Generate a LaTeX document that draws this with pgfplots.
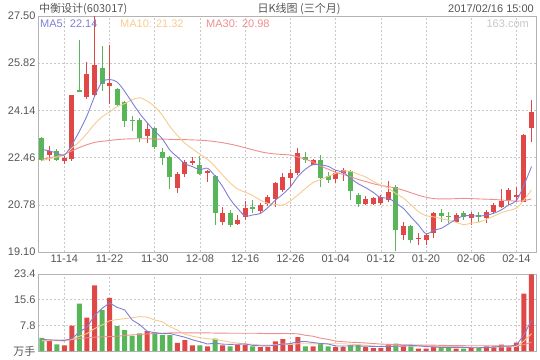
\documentclass[border=0pt]{standalone}
\usepackage{fontspec}
\setmainfont{Liberation Sans}
\newfontfamily\cjk{Noto Sans CJK SC}
\usepackage{pgfplots}
\pgfplotsset{compat=1.18}
\usepackage{pgfplotstable}

\definecolor{upred}{HTML}{E04848}
\definecolor{dngreen}{HTML}{58B558}
\definecolor{mafive}{HTML}{7F7FD5}
\definecolor{maten}{HTML}{F6CB90}
\definecolor{mathirty}{HTML}{EE8E8E}
\definecolor{txt}{HTML}{555555}
\definecolor{framec}{HTML}{B4B4B4}
\definecolor{gridc}{HTML}{C8C8C8}

% red (up) candles: index open high low close
\pgfplotstableread{
i o h l c
1 22.56 22.88 22.35 22.68
3 22.33 22.53 22.23 22.45
4 22.41 24.70 22.35 24.70
6 24.63 25.85 24.55 25.44
7 24.69 27.50 24.66 25.77
9 25.00 26.48 24.37 25.12
14 23.24 23.68 22.99 23.47
18 21.39 21.96 21.21 21.88
19 21.87 22.38 21.78 22.31
20 22.27 22.49 22.19 22.33
22 21.90 22.02 21.60 21.98
24 20.18 20.71 20.06 20.48
26 20.09 20.42 20.06 20.24
27 20.34 20.90 20.24 20.66
29 20.57 20.83 20.50 20.77
30 20.81 21.13 20.72 21.07
31 20.99 21.60 20.71 21.55
32 21.31 21.90 21.24 21.78
33 21.72 22.04 21.42 21.92
34 21.90 22.79 21.84 22.61
36 22.20 22.41 22.18 22.37
39 21.69 22.02 21.55 21.90
40 21.90 22.10 21.64 22.01
43 20.80 21.09 20.77 20.98
44 20.80 21.07 20.77 21.01
45 20.83 21.13 20.79 21.07
46 20.95 21.64 20.89 21.25
48 19.71 20.18 19.53 20.03
50 19.55 19.77 19.35 19.59
51 19.53 19.77 19.35 19.71
52 19.77 20.53 19.60 20.48
55 20.18 20.48 20.14 20.42
57 20.30 20.53 20.06 20.44
59 20.30 20.60 20.14 20.51
60 20.53 20.83 20.45 20.77
61 20.69 21.34 20.66 20.93
62 20.95 21.37 20.77 21.31
63 21.07 21.40 20.89 21.13
64 20.89 23.30 20.89 23.26
65 23.50 24.51 23.03 24.09
}\redc

% green (down) candles
\pgfplotstableread{
i o h l c
0 23.16 23.18 22.35 22.39
2 22.71 22.75 22.35 22.39
5 24.87 26.65 24.78 24.78
8 25.65 26.44 24.84 25.08
10 24.90 24.95 24.30 24.34
11 24.43 24.46 23.56 23.77
12 23.81 23.95 23.40 23.77
13 23.80 23.86 23.00 23.15
15 23.50 23.55 22.78 22.83
16 22.67 22.79 22.20 22.44
17 22.49 22.53 21.34 21.76
21 22.20 22.52 21.84 21.88
23 21.82 21.84 20.06 20.48
25 20.48 20.59 20.00 20.06
28 20.69 20.95 20.48 20.64
35 22.49 22.67 22.26 22.37
37 22.37 22.55 21.42 21.75
38 21.81 21.96 21.57 21.66
41 21.98 22.02 20.95 21.28
42 21.13 21.19 20.69 20.80
47 21.42 21.48 19.12 19.88
49 20.03 20.06 19.41 19.53
53 20.48 20.62 20.18 20.38
54 20.39 20.53 20.14 20.35
56 20.48 20.57 20.24 20.34
58 20.40 20.53 20.17 20.36
}\greenc

% moving averages of the close
\pgfplotstableread{
i m5 m10 m30
0 22.75 22.35 22.40
1 22.70 22.42 22.45
2 22.62 22.48 22.50
3 22.55 22.55 22.58
4 22.92 22.80 22.70
5 23.40 23.03 22.82
6 23.95 23.32 22.92
7 24.63 23.65 23.00
8 25.15 23.91 23.04
9 25.24 24.08 23.07
10 25.15 24.28 23.10
11 24.82 24.38 23.12
12 24.42 24.52 23.13
13 24.03 24.59 23.13
14 23.70 24.47 23.13
15 23.40 24.27 23.12
16 23.13 23.97 23.12
17 22.73 23.57 23.11
18 22.48 23.25 23.10
19 22.24 22.97 23.10
20 22.14 22.77 23.09
21 22.03 22.58 23.08
22 22.08 22.40 23.06
23 21.80 22.14 23.03
24 21.43 21.84 22.99
25 20.98 21.56 22.94
26 20.65 21.34 22.88
27 20.38 21.23 22.81
28 20.42 21.11 22.74
29 20.47 20.95 22.67
30 20.68 20.83 22.62
31 20.94 20.79 22.59
32 21.16 20.77 22.57
33 21.42 20.92 22.55
34 21.79 21.13 22.48
35 22.05 21.36 22.40
36 22.21 21.57 22.30
37 22.20 21.68 22.16
38 22.15 21.79 22.05
39 22.01 21.90 21.94
40 21.94 21.99 21.86
41 21.72 21.97 21.78
42 21.53 21.87 21.68
43 21.39 21.77 21.61
44 21.22 21.61 21.53
45 21.03 21.48 21.47
46 21.02 21.37 21.43
47 20.84 21.18 21.37
48 20.65 21.02 21.30
49 20.35 20.78 21.21
50 20.06 20.54 21.12
51 19.75 20.39 21.05
52 19.87 20.35 21.00
53 19.94 20.29 20.99
54 20.10 20.23 20.99
55 20.27 20.16 21.00
56 20.39 20.07 21.01
57 20.39 20.13 21.00
58 20.38 20.16 20.99
59 20.41 20.26 20.98
60 20.48 20.38 20.97
61 20.60 20.50 20.95
62 20.78 20.58 20.93
63 20.93 20.66 20.91
64 21.48 20.95 20.93
65 22.14 21.31 20.99
}\matab

% volumes (10k lots)
\pgfplotstableread{
i v
1 3.27
3 1.73
4 7.68
6 10.15
7 19.92
9 16.12
14 6.04
18 2.44
19 3.27
20 1.73
22 1.42
24 1.73
26 1.94
27 1.94
29 1.21
30 1.21
31 2.96
32 3.58
33 2.24
34 4.19
36 1.42
39 1.21
40 1.21
43 1.21
44 0.90
45 0.90
46 1.94
48 1.73
50 0.69
51 0.69
52 1.63
55 0.69
57 1.21
59 1.42
60 1.42
61 1.94
62 1.42
63 2.55
64 17.45
65 23.30
}\redv

\pgfplotstableread{
i v
0 3.98
2 2.03
5 14.37
8 12.52
10 7.58
11 6.35
12 4.60
13 5.33
15 5.63
16 4.81
17 4.81
21 1.73
23 3.78
25 1.42
28 1.42
35 1.42
37 2.24
38 1.42
41 1.73
42 1.94
47 2.24
49 1.42
53 1.21
54 1.21
56 0.69
58 1.21
}\greenv

\pgfplotstableread{
i a b c
0 3.50 3.20 3.00
1 3.40 3.20 3.10
2 3.30 3.10 3.20
3 3.20 3.00 3.30
4 3.74 3.50 3.50
5 5.82 4.50 3.80
6 7.19 5.30 4.00
7 10.77 6.80 4.20
8 12.93 7.90 4.30
9 14.62 9.18 4.40
10 13.26 9.54 4.50
11 12.50 9.85 4.70
12 9.43 10.10 4.90
13 8.00 10.46 5.00
14 5.98 10.30 5.20
15 5.59 9.42 5.30
16 5.28 8.89 5.40
17 5.32 7.38 5.50
18 4.75 6.37 5.50
19 4.19 5.09 5.50
20 3.41 4.50 5.50
21 2.80 4.04 5.50
22 2.12 3.72 5.50
23 2.39 3.57 5.45
24 2.08 3.14 5.45
25 2.02 2.71 5.40
26 2.06 2.43 5.40
27 2.16 2.14 5.40
28 1.69 2.04 5.40
29 1.59 1.83 5.37
30 1.54 1.78 5.27
31 1.75 1.90 5.26
32 2.08 2.12 5.31
33 2.24 1.97 5.33
34 2.84 2.21 5.21
35 2.88 2.21 4.78
36 2.57 2.16 4.49
37 2.30 2.19 3.90
38 2.14 2.19 3.53
39 1.54 2.19 3.04
40 1.50 2.19 2.82
41 1.56 2.07 2.67
42 1.50 1.90 2.58
43 1.46 1.80 2.44
44 1.40 1.47 2.27
45 1.34 1.42 2.11
46 1.38 1.47 2.02
47 1.44 1.47 1.93
48 1.54 1.50 1.91
49 1.65 1.52 1.85
50 1.60 1.47 1.81
51 1.35 1.37 1.78
52 1.23 1.34 1.79
53 1.13 1.34 1.70
54 1.09 1.37 1.68
55 1.09 1.35 1.66
56 1.09 1.22 1.62
57 1.00 1.12 1.59
58 1.00 1.07 1.59
59 1.04 1.07 1.59
60 1.19 1.14 1.60
61 1.44 1.26 1.57
62 1.48 1.24 1.49
63 1.75 1.38 1.50
64 4.95 3.00 1.95
65 9.33 5.26 2.67
}\vmatab

\begin{document}
\begin{tikzpicture}
\path[use as bounding box] (0bp,0bp) rectangle (540bp,-360bp);
\pgfplotsset{
  base/.style={
    scale only axis, width=498bp, xmin=-0.5, xmax=65.6,
    axis line style={framec, line width=0.6bp},
    major tick length=0pt,
    xtick={3,9,15,21,27,33,39,45,51,57,63},
    grid=major,
    major grid style={gridc, dash pattern=on 2bp off 2bp, line width=0.6bp},
    ticklabel style={font=\fontsize{11bp}{13bp}\selectfont, text=txt},
    clip=true,
  },
  candle/.style 2 args={draw=none, no markers, error bars/.cd, y dir=plus, y explicit,
    error mark=none, error bar style={draw=#1, line width=#2}},
}
\begin{axis}[base, at={(38bp,-252bp)}, anchor=south west, height=236bp,
  ymin=19.10, ymax=27.50,
  ytick={19.10,20.78,22.46,24.14,25.82,27.50},
  yticklabels={19.10,20.78,22.46,24.14,25.82,27.50},
  xticklabels={11-14,11-22,11-30,12-08,12-16,12-26,01-04,01-12,01-20,02-06,02-14},
  yticklabel style={xshift=1bp},
  xticklabel style={yshift=1bp},
]
% wicks
\addplot[candle={upred}{1bp}]
  table[x=i, y=l, y error plus expr=\thisrow{h}-\thisrow{l}] {\redc};
\addplot[candle={dngreen}{1bp}]
  table[x=i, y=l, y error plus expr=\thisrow{h}-\thisrow{l}] {\greenc};
% bodies
\addplot[candle={upred}{5bp}]
  table[x=i, y=o, y error plus expr={max(\thisrow{c}-\thisrow{o},0.04)}] {\redc};
\addplot[candle={dngreen}{5bp}]
  table[x=i, y=c, y error plus expr={max(\thisrow{o}-\thisrow{c},0.04)}] {\greenc};
% moving averages
\addplot[mathirty, line width=0.9bp, smooth, mark=none] table[x=i, y=m30] {\matab};
\addplot[maten, line width=0.9bp, smooth, mark=none] table[x=i, y=m10] {\matab};
\addplot[mafive, line width=0.9bp, smooth, mark=none] table[x=i, y=m5] {\matab};
\end{axis}

\begin{axis}[base, at={(38bp,-351bp)}, anchor=south west, height=77bp,
  ymin=0, ymax=23.4,
  ytick={0,7.8,15.6,23.4},
  yticklabels={{\cjk 万手},7.8,15.6,23.4},
  xticklabels={},
  yticklabel style={xshift=1bp},
]
\addplot[ybar, bar width=5bp, bar shift=0pt, fill=upred, draw=none] table[x=i, y=v] {\redv};
\addplot[ybar, bar width=5bp, bar shift=0pt, fill=dngreen, draw=none] table[x=i, y=v] {\greenv};
\addplot[mathirty, line width=0.9bp, mark=none] table[x=i, y=c] {\vmatab};
\addplot[maten, line width=0.9bp, mark=none] table[x=i, y=b] {\vmatab};
\addplot[mafive, line width=0.9bp, mark=none] table[x=i, y=a] {\vmatab};
\end{axis}

% header texts
\node[anchor=base west, text=txt, font=\fontsize{11bp}{13bp}\cjk, inner sep=0pt] at (39bp,-12bp) {中衡设计(603017)};
\node[anchor=base, text=txt, font=\fontsize{11bp}{13bp}\cjk, inner sep=0pt] at (299bp,-12bp) {日K线图 (三个月)};
\node[anchor=base east, text=txt, font=\fontsize{11bp}{13bp}\selectfont, inner sep=0pt] at (534bp,-12bp) {2017/02/16 15:00};
\node[anchor=base west, text=mafive, font=\fontsize{11bp}{13bp}\selectfont, inner sep=0pt] at (40bp,-27bp) {MA5: 22.14};
\node[anchor=base west, text=maten, font=\fontsize{11bp}{13bp}\selectfont, inner sep=0pt] at (120bp,-27bp) {MA10: 21.32};
\node[anchor=base west, text=mathirty, font=\fontsize{11bp}{13bp}\selectfont, inner sep=0pt] at (206bp,-27bp) {MA30: 20.98};
\node[anchor=base east, text=black!22, font=\fontsize{11bp}{13bp}\selectfont, inner sep=0pt] at (529bp,-27bp) {163.com};
\end{tikzpicture}
\end{document}
